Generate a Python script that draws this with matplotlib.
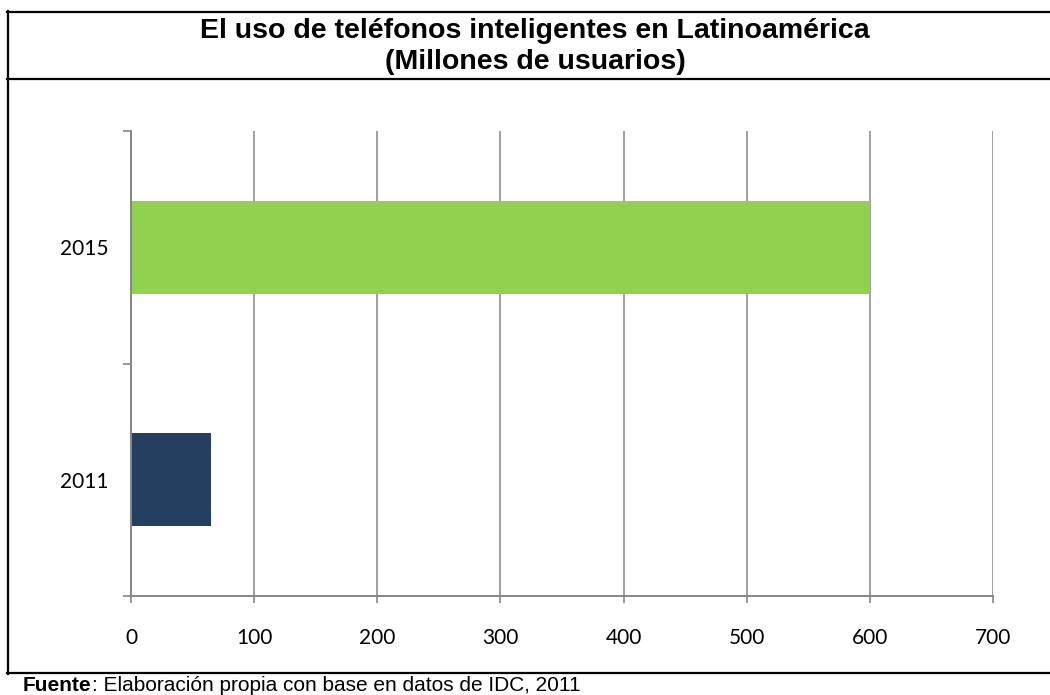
import matplotlib
matplotlib.use("Agg")
import matplotlib.pyplot as plt
from matplotlib.lines import Line2D

# data
years = ["2011", "2015"]
usuarios = [65, 600]
bar_colors = ["#243F60", "#92D050"]
x_ticks = [0, 100, 200, 300, 400, 500, 600, 700]

titulo_1 = "El uso de teléfonos inteligentes en Latinoamérica"
titulo_2 = "(Millones de usuarios)"
fuente_bold = "Fuente"
fuente_rest = ": Elaboración propia con base en datos de IDC, 2011"

W, H = 1050, 695
fig = plt.figure(figsize=(W / 100, H / 100), dpi=100)
fig.patch.set_facecolor("white")

# plot area (pixel positions)
left, right, top, bottom = 131, 993, 131, 596
ax = fig.add_axes([left / W, 1 - bottom / H, (right - left) / W, (bottom - top) / H])

grey = "#868686"
ypos = list(range(len(years)))
ax.barh(ypos, usuarios, height=0.4, color=bar_colors, zorder=3)

ax.set_xlim(0, 700)
ax.set_ylim(-0.5, 1.5)
ax.set_xticks(x_ticks)
ax.set_xticklabels([str(v) for v in x_ticks])
ax.set_yticks(ypos)
ax.set_yticklabels(years)
ax.set_yticks([-0.5, 0.5, 1.5], minor=True)

ax.grid(axis="x", color=grey, linewidth=1.1, zorder=0)
for s in ["top", "right"]:
    ax.spines[s].set_visible(False)
for s in ["left", "bottom"]:
    ax.spines[s].set_color(grey)
    ax.spines[s].set_linewidth(1.4)
    ax.spines[s].set_zorder(4)

ax.tick_params(axis="x", direction="out", length=5, width=1.2, color=grey, pad=18)
ax.tick_params(axis="y", which="major", length=0, pad=16.5)
ax.tick_params(axis="y", which="minor", direction="out", length=6, width=1.2, color=grey)
for lab in ax.get_xticklabels() + ax.get_yticklabels():
    lab.set_fontfamily(["Lato", "DejaVu Sans"])
    lab.set_fontsize(15)
    lab.set_color("black")

# frame lines around the chart
def hline(y, x0=7, x1=W):
    fig.add_artist(Line2D([x0 / W, x1 / W], [1 - y / H, 1 - y / H], color="black", linewidth=1.6))

hline(11.5)
hline(78.5)
hline(673)
fig.add_artist(Line2D([7.5 / W, 7.5 / W], [1 - 11 / H, 1 - 674 / H], color="black", linewidth=1.6))

fig.text(535 / W, 1 - 38 / H, titulo_1, ha="center", va="baseline", fontsize=20.5,
         fontweight="bold", family="Liberation Sans")
fig.text(535 / W, 1 - 69 / H, titulo_2, ha="center", va="baseline", fontsize=20.5,
         fontweight="bold", family="Liberation Sans")

# source line, sits right under the frame like in the original
t1 = fig.text(23 / W, 1 - 691 / H, fuente_bold, ha="left", va="baseline", fontsize=15,
              fontweight="bold", family="Liberation Sans")
ax.annotate(fuente_rest, xy=(1, 0), xycoords=t1, va="bottom", ha="left",
            fontsize=15, family="Liberation Sans", annotation_clip=False)

fig.savefig("out.png", dpi=100, facecolor="white")
